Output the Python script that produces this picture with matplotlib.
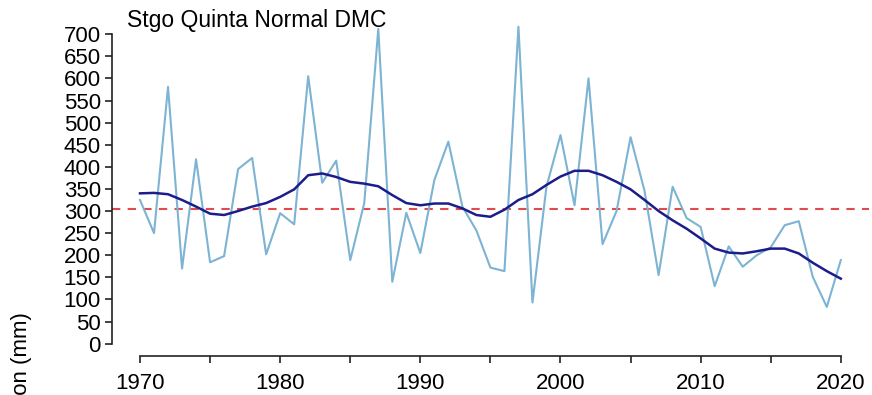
"""
Annual precipitation at Stgo Quinta Normal DMC, 1970-2020,
with smoothed curve and long-term mean.
"""

import numpy as np
import matplotlib
matplotlib.use("Agg")
import matplotlib.pyplot as plt

plt.rcParams["font.family"] = ["Liberation Sans", "DejaVu Sans"]

# Values (mm)
years = list(range(1970, 2021))
annual_precip = [
    325, 250, 581, 170, 417, 184, 198, 395, 420, 202,
    295, 270, 605, 364, 414, 189, 318, 712, 140, 296,
    205, 370, 457, 310, 256, 172, 164, 717, 93, 355,
    472, 313, 600, 225, 300, 467, 345, 155, 355, 284,
    264, 130, 220, 174, 200, 218, 268, 277, 151, 83,
    189,
]
smoothed_precip = [
    340, 341, 338, 325, 310, 294, 291, 300, 310, 318,
    332, 349, 381, 385, 377, 366, 362, 356, 336, 318,
    313, 317, 317, 306, 291, 287, 303, 325, 338, 359,
    378, 391, 391, 381, 366, 349, 325, 300, 279, 260,
    238, 215, 206, 204, 209, 215, 215, 204, 183, 164,
    147,
]
mean_precip = 304

title = "Stgo Quinta Normal DMC"
y_label = "Precipitation (mm)"
x_ticks = list(range(1970, 2021, 5))
x_tick_labels = ["1970", "", "1980", "", "1990", "", "2000", "", "2010", "", "2020"]
y_ticks = list(range(0, 701, 50))

fig = plt.figure(figsize=(8.72, 3.95), dpi=100)
ax = fig.add_axes([0.1284, 0.0987, 0.868, 0.846])

ax.plot(years, annual_precip, color="#7db3d3", lw=1.5, zorder=2)
ax.plot(years, smoothed_precip, color="#1c1c8a", lw=1.8, zorder=3)
ax.axhline(mean_precip, color="#e04b50", lw=1.5, ls=(0, (4, 3.5)), zorder=1)

# R-style axes: 4% padding, detached spines
ax.set_xlim(1968, 2022)
ax.set_ylim(-28, 728)
for side in ("top", "right"):
    ax.spines[side].set_visible(False)
ax.spines["left"].set_bounds(0, 700)
ax.spines["bottom"].set_bounds(1970, 2020)
for side in ("left", "bottom"):
    ax.spines[side].set_linewidth(1.2)
    ax.spines[side].set_color("#222222")

ax.set_xticks(x_ticks)
ax.set_xticklabels(x_tick_labels)
ax.set_yticks(y_ticks)
ax.tick_params(axis="both", labelsize=16, length=5, width=1.2, color="#222222")
ax.tick_params(axis="y", pad=3)
ax.tick_params(axis="x", pad=7)

fig.text(127 / 872, (395 - 27) / 395, title, fontsize=16.5, va="baseline", ha="left")
fig.text(22 / 872, (395 - 312) / 395, y_label, fontsize=16, rotation=90,
         va="top", ha="center")

fig.savefig("out.png", dpi=100)
